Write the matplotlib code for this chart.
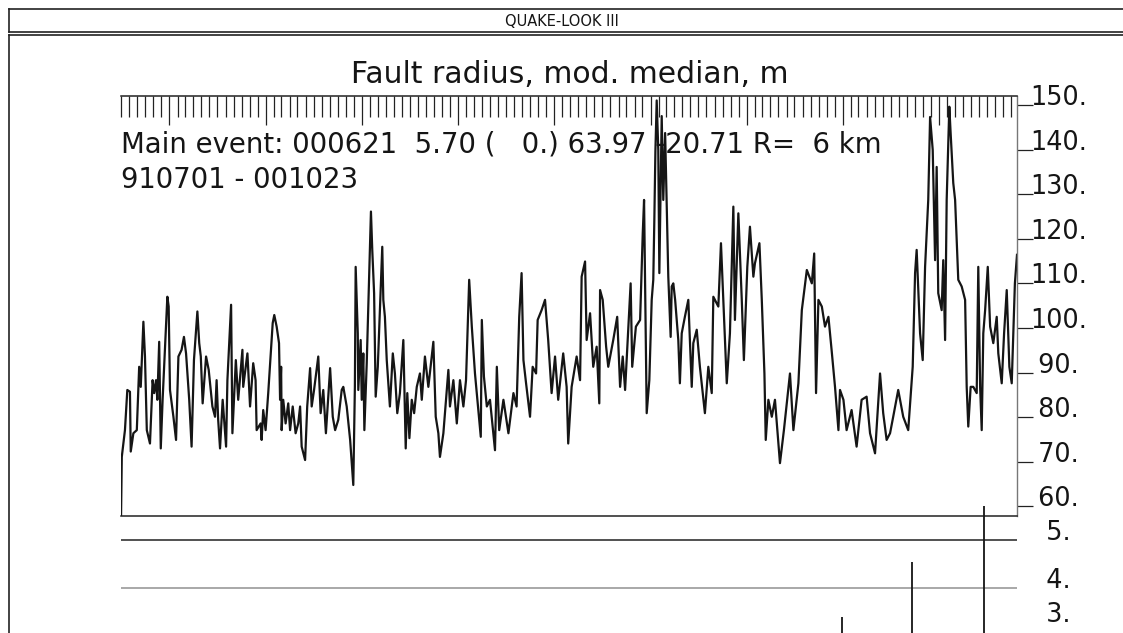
import numpy as np
import matplotlib
matplotlib.use('Agg')
import matplotlib.pyplot as plt
import matplotlib.dates as mdates
import matplotlib.transforms as mtransforms
from matplotlib.lines import Line2D

plt.rcParams['font.family'] = ['DejaVu Sans']

# time span of the plot
t_start = np.datetime64('1991-07-01')
t_end = np.datetime64('2000-10-23')

# days after t_start, and fault radius (mod. median, m)
obs_day = [
    0, 3, 15, 24, 34, 37, 47, 60, 69, 75,
    85, 91, 98, 110, 120, 126, 133, 138, 145, 151,
    158, 176, 181, 186, 199, 209, 218, 230, 239, 247,
    259, 268, 277, 290, 297, 303, 310, 323, 333, 347,
    357, 363, 369, 376, 386, 399, 404, 418, 423, 436,
    445, 461, 464, 480, 490, 502, 511, 515, 530, 534,
    540, 549, 559, 576, 582, 591, 600, 604, 608, 610,
    616, 625, 635, 642, 652, 663, 673, 680, 686, 699,
    707, 718, 724, 733, 749, 758, 768, 778, 794, 804,
    813, 825, 838, 844, 857, 870, 882, 888, 891, 899,
    901, 910, 914, 920, 924, 933, 949, 954, 961, 967,
    975, 992, 996, 1002, 1009, 1021, 1032, 1040, 1049, 1059,
    1072, 1081, 1087, 1095, 1104, 1113, 1123, 1135, 1142, 1154,
    1167, 1186, 1195, 1205, 1211, 1224, 1243, 1249, 1262, 1275,
    1287, 1300, 1310, 1322, 1332, 1344, 1366, 1370, 1378, 1389,
    1401, 1420, 1427, 1436, 1452, 1471, 1490, 1502, 1512, 1521,
    1528, 1538, 1553, 1563, 1576, 1582, 1597, 1610, 1622, 1635,
    1648, 1660, 1679, 1692, 1698, 1711, 1730, 1743, 1749, 1762,
    1768, 1781, 1793, 1806, 1816, 1819, 1829, 1842, 1850, 1869,
    1884, 1895, 1905, 1914, 1926, 1935, 1941, 1955, 1971, 1981,
    1986, 1996, 2006, 2015, 2021, 2025, 2029, 2034, 2040, 2044,
    2053, 2059, 2066, 2078, 2087, 2091, 2097, 2104, 2116, 2122,
    2129, 2141, 2154, 2167, 2173, 2186, 2198, 2217, 2230, 2243,
    2249, 2268, 2278, 2287, 2300, 2312, 2325, 2331, 2344, 2357,
    2365, 2378, 2388, 2401, 2407, 2424, 2433, 2443, 2448, 2458,
    2471, 2483, 2502, 2517, 2540, 2553, 2572, 2585, 2604, 2623,
    2632, 2639, 2648, 2661, 2673, 2686, 2698, 2711, 2724, 2730,
    2743, 2755, 2774, 2793, 2812, 2831, 2844, 2863, 2882, 2894,
    2907, 2920, 2932, 2951, 2970, 2989, 3006, 3015, 3021, 3034,
    3044, 3053, 3065, 3072, 3082, 3091, 3097, 3103, 3116, 3122,
    3129, 3135, 3145, 3150, 3160, 3167, 3179, 3192, 3205, 3211,
    3217, 3226, 3236, 3249, 3255, 3262, 3268, 3274, 3281, 3291,
    3300, 3312, 3325, 3331, 3344, 3353, 3363, 3373, 3382, 3394,
    3402,
]
radius_m = [
    57.0, 71.1, 77.1, 86.1, 85.7, 72.3, 76.4, 77.1, 91.3, 86.8,
    101.4, 93.6, 77.1, 74.1, 88.3, 85.4, 88.3, 83.9, 96.9, 73.0,
    83.9, 107.0, 104.8, 86.1, 80.1, 74.9, 93.6, 95.1, 98.0, 94.3,
    83.9, 73.4, 92.8, 103.7, 96.6, 93.6, 83.1, 93.6, 90.6, 82.4,
    80.1, 88.3, 79.4, 73.0, 83.9, 73.4, 88.3, 105.2, 76.4, 92.8,
    83.9, 95.1, 86.8, 94.3, 82.4, 92.1, 88.3, 77.1, 78.6, 74.9,
    81.6, 77.1, 85.4, 101.1, 102.9, 100.3, 96.6, 83.9, 91.3, 77.1,
    83.9, 78.6, 83.1, 77.1, 82.4, 76.4, 78.6, 82.4, 73.4, 70.4,
    82.4, 91.0, 82.4, 86.1, 93.6, 80.9, 86.1, 76.4, 91.0, 80.1,
    77.1, 79.4, 86.1, 86.8, 82.4, 74.9, 64.8, 86.8, 113.7, 98.8,
    86.1, 97.3, 83.9, 94.3, 77.1, 92.1, 126.1, 117.5, 107.8, 84.6,
    91.3, 118.2, 106.3, 102.5, 92.8, 82.4, 94.3, 89.8, 80.9, 85.4,
    97.3, 73.0, 85.4, 75.3, 83.9, 80.9, 86.8, 89.8, 83.9, 93.6,
    86.8, 96.9, 80.1, 76.4, 71.1, 76.4, 90.6, 82.4, 88.3, 78.6,
    88.3, 82.4, 88.3, 110.8, 100.3, 89.8, 75.6, 101.8, 89.1, 82.4,
    83.9, 72.6, 91.3, 77.1, 83.9, 76.4, 85.4, 82.4, 102.5, 112.3,
    92.8, 87.6, 80.1, 91.3, 89.8, 101.8, 104.0, 106.3, 97.3, 85.4,
    93.6, 83.9, 94.3, 86.8, 74.1, 86.8, 93.6, 88.3, 111.5, 114.9,
    97.3, 103.3, 91.3, 95.8, 83.1, 108.5, 106.3, 95.8, 91.3, 97.3,
    102.5, 86.8, 93.6, 86.1, 99.6, 110.0, 91.3, 100.3, 101.8, 121.2,
    128.7, 80.9, 88.3, 106.3, 110.8, 124.2, 139.5, 151.0, 139.9, 112.3,
    147.5, 128.7, 143.7, 111.5, 98.0, 109.3, 110.0, 106.3, 97.3, 87.6,
    98.8, 102.5, 106.3, 86.8, 96.6, 99.6, 91.3, 80.9, 91.3, 85.4,
    107.0, 104.8, 119.0, 106.3, 87.6, 98.8, 127.2, 101.8, 125.7, 106.3,
    92.8, 113.7, 122.7, 111.5, 114.5, 119.0, 106.3, 89.8, 74.9, 83.9,
    80.1, 83.9, 69.7, 77.1, 89.8, 77.1, 87.6, 104.0, 113.0, 110.0,
    116.7, 85.4, 106.3, 104.8, 100.3, 102.5, 95.1, 86.8, 77.1, 86.1,
    83.9, 77.1, 81.6, 73.4, 83.9, 84.6, 76.4, 71.9, 89.8, 80.9,
    74.9, 76.4, 80.1, 86.1, 80.1, 77.1, 91.3, 112.3, 117.5, 98.8,
    92.8, 113.7, 128.7, 147.3, 139.9, 115.2, 136.1, 107.8, 104.0, 115.2,
    97.3, 128.7, 149.6, 143.7, 132.5, 128.7, 110.8, 109.3, 106.3, 86.8,
    77.9, 86.8, 86.8, 85.4, 113.7, 86.8, 77.1, 98.8, 104.0, 113.7,
    100.3, 96.6, 102.5, 94.3, 87.6, 98.8, 108.5, 91.3, 87.6, 110.0,
    116.4,
]

# earthquakes shown in the lower strip
event_date = ['1998-12-29', '1999-09-20', '2000-06-21']
event_mag = [3.4, 4.55, 5.7]

radius_ticks = [150, 140, 130, 120, 110, 100, 90, 80, 70, 60]
radius_labels = ['150.', '140.', '130.', '120.', '110.', '100.',
                 ' 90.', ' 80.', ' 70.', ' 60.']
mag_ticks = [5, 4]
mag_labels = ['  5.', '  4.']

title = 'Fault radius, mod. median, m'
info_1 = 'Main event: 000621  5.70 (   0.) 63.97 -20.71 R=  6 km'
info_2 = '910701 - 001023'
header = 'QUAKE-LOOK III'

W, H = 1123, 633


def fx(p):
    return p / W


def fy(p):
    return 1 - p / H


ink = '#151515'
fig = plt.figure(figsize=(W / 100, H / 100), dpi=100)

# main panel
ax = fig.add_axes([fx(121), fy(516), fx(1017) - fx(121), fy(96) - fy(516)])
dates = t_start + np.array(obs_day).astype('timedelta64[D]')
ax.plot(dates, radius_m, color=ink, lw=1.6)
ax.set_xlim(t_start, t_end)
ax.set_ylim(57.85, 152.0)

ax.spines['left'].set_visible(False)
for side in ['top', 'bottom']:
    ax.spines[side].set_color('#222222')
    ax.spines[side].set_linewidth(1.1)
ax.spines['right'].set_color('#777777')
ax.spines['right'].set_linewidth(1.0)

ax.xaxis.set_major_locator(mdates.YearLocator())
ax.xaxis.set_minor_locator(mdates.MonthLocator())
ax.tick_params(axis='x', which='both', top=True, bottom=False,
               labeltop=False, labelbottom=False, direction='in',
               color='#222222', width=0.9)
ax.tick_params(axis='x', which='major', length=21)
ax.tick_params(axis='x', which='minor', length=15)

ax.yaxis.set_ticks_position('right')
ax.set_yticks(radius_ticks)
ax.tick_params(axis='y', which='both', direction='out', length=11.5,
               width=0.9, color='#222222', labelright=False, labelleft=False)

lab_x = (1030 - 121) / (1017 - 121)
trans = mtransforms.blended_transform_factory(ax.transAxes, ax.transData)
for v, lab in zip(radius_ticks, radius_labels):
    ax.text(lab_x, v, lab, transform=trans, ha='left', va='baseline',
            fontsize=18.4, color=ink)

# magnitude strip below
ax2 = fig.add_axes([fx(121), 0, fx(1017) - fx(121), fy(516)])
ax2.set_xlim(t_start, t_end)
ax2.set_ylim(5 - (633 - 540) / 48, 5 + (540 - 516) / 48)
ax2.axis('off')
ax2.axhline(5, color='#333333', lw=1.2)
ax2.axhline(4, color='#9a9a9a', lw=1.2)
ax2.vlines(np.array(event_date, dtype='datetime64[D]'), 2.0, event_mag,
           color=ink, lw=1.3, clip_on=False)
trans2 = mtransforms.blended_transform_factory(ax2.transAxes, ax2.transData)
for v, lab in zip(mag_ticks, mag_labels):
    ax2.text(lab_x, v, lab, transform=trans2, ha='left', va='baseline',
             fontsize=18.4, color=ink)
ax2.text(lab_x, 3.29, '  3.', transform=trans2, ha='left', va='baseline',
         fontsize=18.4, color=ink)

# texts
fig.text(fx(570), fy(83), title, ha='center', va='baseline',
         fontsize=21.5, color=ink)
fig.text(fx(121), fy(153), info_1, ha='left', va='baseline',
         fontsize=19.8, color=ink)
fig.text(fx(121), fy(188), info_2, ha='left', va='baseline',
         fontsize=19.8, color=ink)
fig.text(fx(562), fy(22), header, ha='center', va='center',
         fontsize=10.5, color=ink)

# page frame
frame = [((9, 1123), (9, 9)), ((9, 9), (9, 32)), ((9, 1123), (32, 32)),
         ((9, 1123), (35, 35)), ((9, 9), (35, 633))]
for (xa, xb), (ya, yb) in frame:
    fig.add_artist(Line2D([fx(xa), fx(xb)], [fy(ya), fy(yb)],
                          transform=fig.transFigure, color='#222222', lw=1.2))

fig.savefig('out.png', dpi=100)
